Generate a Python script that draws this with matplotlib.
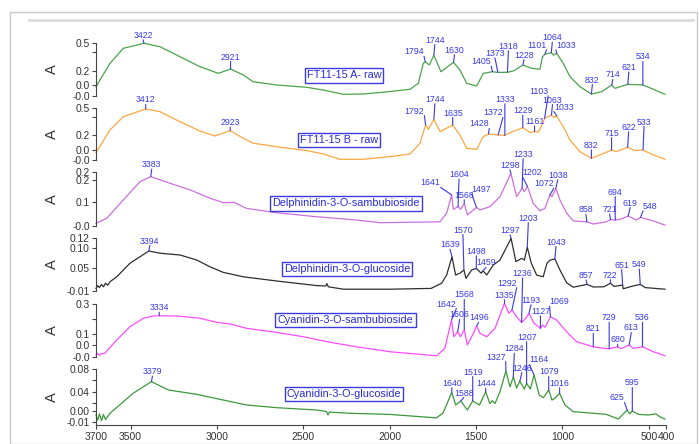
import numpy as np
import matplotlib.pyplot as plt
from matplotlib.lines import Line2D
from matplotlib.patches import Rectangle

plt.rcParams['font.family'] = ['Liberation Sans', 'DejaVu Sans']

W, H = 699, 444

# FT11-15 A- raw
wn_a = [3700, 3619, 3542, 3422, 3329, 3214, 3098, 2992, 2921, 2847, 2791, 2654, 2480, 2384,
        2268, 2152, 1998, 1882, 1834, 1805, 1794, 1770, 1744, 1703, 1630, 1593, 1554, 1496,
        1458, 1405, 1373, 1318, 1280, 1228, 1178, 1130, 1115, 1101, 1064, 1052, 1033, 995,
        956, 898, 832, 772, 714, 696, 621, 534, 473, 406]
abs_a = [0.032, 0.282, 0.443, 0.497, 0.46, 0.353, 0.246, 0.175, 0.221, 0.157, 0.085, 0.05,
         0.025, -0.004, -0.05, -0.047, -0.02, 0.004, 0.068, 0.282, 0.30, 0.264, 0.371, 0.192,
         0.293, 0.21, 0.068, 0.039, 0.175, 0.192, 0.185, 0.186, 0.203, 0.264, 0.229, 0.218,
         0.353, 0.38, 0.396, 0.37, 0.39, 0.282, 0.139, 0.032, -0.047, -0.022, 0.05, 0.014,
         0.057, 0.05, 0.004, -0.05]
peaks_a = [3422, 2921, 1794, 1744, 1630, 1405, 1373, 1318, 1228, 1101, 1064, 1033, 832, 714, 621, 534]

# FT11-15 B - raw
wn_b = [3700, 3619, 3542, 3412, 3329, 3214, 3098, 3011, 2923, 2847, 2789, 2654, 2480, 2384,
        2288, 2152, 1998, 1882, 1824, 1792, 1775, 1744, 1708, 1635, 1593, 1554, 1496, 1458,
        1428, 1372, 1333, 1290, 1229, 1186, 1161, 1140, 1120, 1103, 1063, 1050, 1033, 995,
        956, 898, 832, 783, 715, 690, 622, 580, 533, 473, 406]
abs_b = [0.003, 0.256, 0.403, 0.489, 0.459, 0.348, 0.244, 0.189, 0.248, 0.163, 0.108, 0.07,
         0.026, -0.011, -0.07, -0.07, -0.04, -0.011, 0.108, 0.311, 0.263, 0.374, 0.237, 0.311,
         0.2, 0.052, 0.041, 0.181, 0.211, 0.2, 0.196, 0.237, 0.281, 0.228, 0.24, 0.232, 0.3,
         0.386, 0.422, 0.396, 0.411, 0.293, 0.144, 0.014, -0.059, -0.022, 0.033, 0.014, 0.063,
         0.026, 0.033, -0.022, -0.07]
peaks_b = [3412, 2923, 1792, 1744, 1635, 1428, 1372, 1333, 1229, 1161, 1103, 1063, 1033, 832, 715, 622, 533]

# Delphinidin-3-O-sambubioside
wn_c = [3700, 3638, 3542, 3445, 3383, 3272, 3156, 3040, 2963, 2900, 2828, 2654, 2422, 2191,
        2056, 1709, 1670, 1641, 1631, 1604, 1588, 1568, 1550, 1497, 1477, 1419, 1361, 1298,
        1265, 1233, 1220, 1202, 1169, 1130, 1101, 1072, 1060, 1038, 1014, 975, 937, 858, 821,
        744, 721, 694, 667, 619, 570, 548, 473, 406]
abs_c = [0.003, 0.026, 0.109, 0.192, 0.215, 0.185, 0.155, 0.117, 0.097, 0.098, 0.071, 0.051,
         0.033, 0.018, 0.006, 0.01, 0.049, 0.132, 0.067, 0.079, 0.067, 0.094, 0.041, 0.075,
         0.064, 0.079, 0.124, 0.23, 0.124, 0.162, 0.147, 0.17, 0.094, 0.06, 0.071, 0.132,
         0.124, 0.162, 0.109, 0.049, 0.014, 0.01, 0.0, 0.01, 0.02, 0.018, 0.021, 0.036, 0.018,
         0.03, 0.014, -0.005]
peaks_c = [3383, 1641, 1604, 1568, 1497, 1298, 1233, 1202, 1072, 1038, 858, 721, 694, 619, 548]

# Delphinidin-3-O-glucoside
wn_d = [3700, 3690, 3680, 3668, 3657, 3645, 3632, 3618, 3580, 3503, 3394, 3329, 3214, 3117,
        3040, 2963, 2847, 2654, 2422, 2370, 2363, 2355, 2268, 1998, 1760, 1699, 1670, 1639,
        1618, 1593, 1570, 1558, 1525, 1498, 1470, 1459, 1438, 1400, 1361, 1297, 1269, 1236,
        1220, 1203, 1180, 1149, 1111, 1089, 1070, 1043, 1014, 975, 937, 857, 821, 760, 722,
        700, 651, 648, 600, 549, 520, 406]
abs_d = [-0.001, 0.006, 0.001, 0.009, 0.003, 0.012, 0.007, 0.016, 0.028, 0.062, 0.0925, 0.087,
         0.0825, 0.07, 0.053, 0.039, 0.028, 0.0175, 0.006, 0.005, 0.011, 0.003, -0.003, -0.003,
         -0.001, 0.012, 0.0325, 0.078, 0.0325, 0.037, 0.045, 0.024, 0.045, 0.049, 0.037, 0.043,
         0.0325, 0.0575, 0.07, 0.124, 0.066, 0.074, 0.07, 0.102, 0.062, 0.0325, 0.028, 0.062,
         0.07, 0.0725, 0.045, 0.013, 0.002, 0.009, 0.0025, 0.003, 0.012, 0.004, 0.0075, -0.002,
         0.004, 0.009, 0.001, -0.003]
peaks_d = [3394, 1639, 1570, 1498, 1459, 1297, 1203, 1043, 857, 722, 651, 549]

# Cyanidin-3-O-sambubioside
wn_e = [3700, 3690, 3680, 3668, 3650, 3580, 3503, 3426, 3368, 3334, 3226, 3098, 3001, 2924,
        2828, 2654, 2500, 2345, 2191, 1998, 1728, 1680, 1642, 1628, 1606, 1590, 1568, 1550,
        1520, 1496, 1477, 1438, 1390, 1335, 1310, 1292, 1265, 1236, 1215, 1193, 1165, 1127,
        1115, 1100, 1069, 1033, 975, 918, 821, 763, 729, 680, 660, 613, 590, 536, 473, 406]
abs_e = [-0.04, -0.03, -0.042, -0.03, -0.029, 0.06, 0.149, 0.205, 0.22, 0.222, 0.22, 0.205,
         0.178, 0.167, 0.138, 0.111, 0.082, 0.045, 0.015, -0.018, -0.045, 0.005, 0.193, 0.082,
         0.115, 0.082, 0.127, 0.027, 0.093, 0.155, 0.105, 0.082, 0.138, 0.305, 0.238, 0.26,
         0.215, 0.178, 0.2, 0.238, 0.173, 0.138, 0.16, 0.145, 0.215, 0.193, 0.115, 0.049,
         0.015, 0.005, 0.002, 0.015, 0.002, 0.027, 0.005, 0.015, -0.018, -0.045]
peaks_e = [3334, 1642, 1606, 1568, 1496, 1335, 1292, 1236, 1193, 1127, 1069, 821, 729, 680, 613, 536]

# Cyanidin-3-O-glucoside
wn_f = [3700, 3690, 3680, 3668, 3657, 3645, 3619, 3542, 3484, 3426, 3379, 3281, 3117, 2963,
        2828, 2654, 2422, 2365, 2357, 2350, 2230, 1998, 1730, 1692, 1663, 1640, 1618, 1588,
        1550, 1519, 1480, 1444, 1420, 1405, 1390, 1361, 1327, 1303, 1284, 1265, 1246, 1220,
        1207, 1185, 1164, 1134, 1110, 1079, 1060, 1040, 1016, 985, 937, 820, 745, 676, 625,
        610, 595, 560, 500, 460, 430, 406]
abs_f = [0.0, -0.009, 0.002, -0.01, 0.001, -0.008, 0.003, 0.023, 0.038, 0.049, 0.058, 0.0435,
         0.036, 0.026, 0.0174, 0.0127, 0.0087, 0.006, 0.0, 0.005, 0.003, 0.001, -0.005, 0.003,
         0.023, 0.0395, 0.0174, 0.0243, 0.0087, 0.0243, 0.0174, 0.0405, 0.02, 0.025, 0.02,
         0.0405, 0.0765, 0.049, 0.0667, 0.047, 0.059, 0.045, 0.055, 0.045, 0.0696, 0.0348,
         0.03, 0.0435, 0.026, 0.03, 0.0377, 0.0174, 0.0058, 0.003, 0.001, -0.007, 0.0087,
         0.002, 0.007, 0.001, 0.0, 0.002, -0.004, -0.007]
peaks_f = [3379, 1640, 1588, 1519, 1444, 1327, 1284, 1246, 1207, 1164, 1079, 1016, 625, 595]

names = ['FT11-15 A- raw', 'FT11-15 B - raw', 'Delphinidin-3-O-sambubioside',
         'Delphinidin-3-O-glucoside', 'Cyanidin-3-O-sambubioside', 'Cyanidin-3-O-glucoside']
x_ticks = [3700, 3500, 3000, 2500, 2000, 1500, 1000, 500, 400]

# label offsets (pixels, from the peak point)
off_a = [(-1, 8), (0, 12), (-11, 10), (1, 15), (1, 12), (-11, 10), (-3, 19), (1, 26), (1, 10),
         (-8, 9), (1, 15), (9, 8), (1, 14), (1, 10), (1, 17), (0, 28)]
off_b = [(0, 9), (0, 8), (-11, 14), (1, 20), (0, 12), (-9, 10), (-5, 22), (0, 36), (0, 17),
         (0, 10), (-6, 27), (1, 15), (7, 9), (0, 13), (0, 17), (1, 20), (1, 28)]
off_c = [(1, 12), (-21, 12), (1, 32), (0, 8), (5, 18), (-1, 8), (1, 34), (5, 14), (-6, 11),
         (2, 13), (-1, 12), (-1, 10), (0, 28), (2, 13), (10, 11)]
off_d = [(1, 10), (-2, 12), (-1, 40), (0, 17), (3, 8), (-1, 8), (1, 29), (1, 17), (-1, 9),
         (0, 8), (-1, 20), (-1, 20)]
off_e = [(0, 8), (-5, 16), (2, 17), (0, 35), (2, 8), (0, 8), (-5, 27), (1, 49), (2, 13),
         (0, 17), (9, 15), (0, 18), (0, 31), (0, 7), (2, 17), (0, 29)]
off_f = [(1, 10), (0, 9), (3, 8), (0, 29), (0, 8), (-10, 14), (1, 28), (2, 13), (0, 46),
         (5, 15), (0, 18), (0, 10), (-10, 12), (0, 28)]

blue = '#3838ec'
fig = plt.figure(figsize=(W / 100, H / 100), dpi=100)

# frame around the plot window
fig.add_artist(Rectangle((10 / W, 0), 687 / W, 1 - 12 / H, transform=fig.transFigure,
                         fill=False, ec='#c8c8c8', lw=1))
fig.add_artist(Line2D([29 / W, 693 / W], [1 - 20 / H, 1 - 20 / H], transform=fig.transFigure,
                      color='#dcdcdc', lw=2))

panels = [
    (wn_a, abs_a, '#4aa44a', (43, 96), (-0.068, 0.5), [0.5, 0.4, 0.2, 0.05, -0.065],
     ['0.5', '', '0.2', '0.0', '-0.0'], peaks_a, off_a, (344, 75.5)),
    (wn_b, abs_b, '#ffa640', (108, 160), (-0.078, 0.5), [0.5, 0.4, 0.2, 0.033, -0.078],
     ['0.5', '', '0.2', '0.0', '-0.0'], peaks_b, off_b, (339, 140)),
    (wn_c, abs_c, '#cc6fdc', (172, 226), (-0.009, 0.236), [0.236, 0.2, 0.1, -0.009],
     ['0.2', '0.2', '0.1', '-0.0'], peaks_c, off_c, (345.7, 203.5)),
    (wn_d, abs_d, '#2e2e2e', (238, 291), (-0.0075, 0.125), [0.125, 0.10, 0.05, -0.0075],
     ['0.12', '0.10', '0.05', '-0.01'], peaks_d, off_d, (347, 269)),
    (wn_e, abs_e, '#ff4cff', (304, 357), (-0.053, 0.3), [0.3, 0.2, 0.1, 0.027, -0.053],
     ['0.3', '', '0.1', '0.0', '-0.0'], peaks_e, off_e, (345.5, 320)),
    (wn_f, abs_f, '#3c983c', (369, 425), (-0.0174, 0.08), [0.08, 0.06, 0.04, 0.02, 0.007, -0.012],
     ['0.08', '', '0.04', '', '0.00', '-0.01'], peaks_f, off_f, (344, 394)),
]

for i, (wn, ab, col, (yt, yb), (vb, vt), yt_vals, yt_labs, peaks, offs, leg) in enumerate(panels):
    ax = fig.add_axes([96 / W, 1 - yb / H, 570 / W, (yb - yt) / H])
    ax.patch.set_visible(False)
    ax.plot(wn, ab, color=col, lw=0.9, clip_on=False)
    ax.set_xlim(3700, 400)
    ax.set_ylim(vb, vt)
    for s in ['top', 'right']:
        ax.spines[s].set_visible(False)
    ax.spines['left'].set_color('#444444')
    ax.spines['left'].set_linewidth(0.8)
    ax.set_yticks(yt_vals)
    ax.set_yticklabels(yt_labs)
    ax.tick_params(axis='y', length=3, width=0.8, pad=1.5, labelsize=7.4,
                   colors='#444444', labelcolor='#333333')
    if i == len(panels) - 1:
        ax.spines['bottom'].set_color('#444444')
        ax.spines['bottom'].set_linewidth(0.8)
        ax.set_xticks(x_ticks)
        ax.set_xticklabels([str(t) for t in x_ticks])
        ax.tick_params(axis='x', length=3, width=0.8, pad=2, labelsize=7.5,
                       colors='#444444', labelcolor='#333333')
    else:
        ax.spines['bottom'].set_visible(False)
        ax.set_xticks([])

    xs = np.array(wn[::-1])
    ys = np.array(ab[::-1])
    for p, (dx, dy) in zip(peaks, offs):
        yv = np.interp(p, xs, ys)
        if dx <= -4:
            rp = (1, 0)
        elif dx >= 4:
            rp = (0, 0)
        else:
            rp = (0.5, 0)
        ax.annotate(str(p), xy=(p, yv), xytext=(dx, dy), textcoords='offset pixels',
                    ha='center', va='center', fontsize=6.3, color=blue, zorder=5,
                    annotation_clip=False,
                    arrowprops=dict(arrowstyle='-', color=blue, lw=0.8, shrinkA=0,
                                    shrinkB=0, patchA=None, relpos=rp))

    fig.text(leg[0] / W, 1 - leg[1] / H, names[i], ha='center', va='center', fontsize=7.8,
             color='#2a2ad8', zorder=6,
             bbox=dict(boxstyle='square,pad=0.2', fc='white', ec='#3a3ae0', lw=1))
    fig.text(52 / W, 1 - (yt + yb) / 2 / H, 'A', rotation=90, ha='center', va='center',
             fontsize=10.5, color='#333333')

fig.savefig('out.png', dpi=100)
